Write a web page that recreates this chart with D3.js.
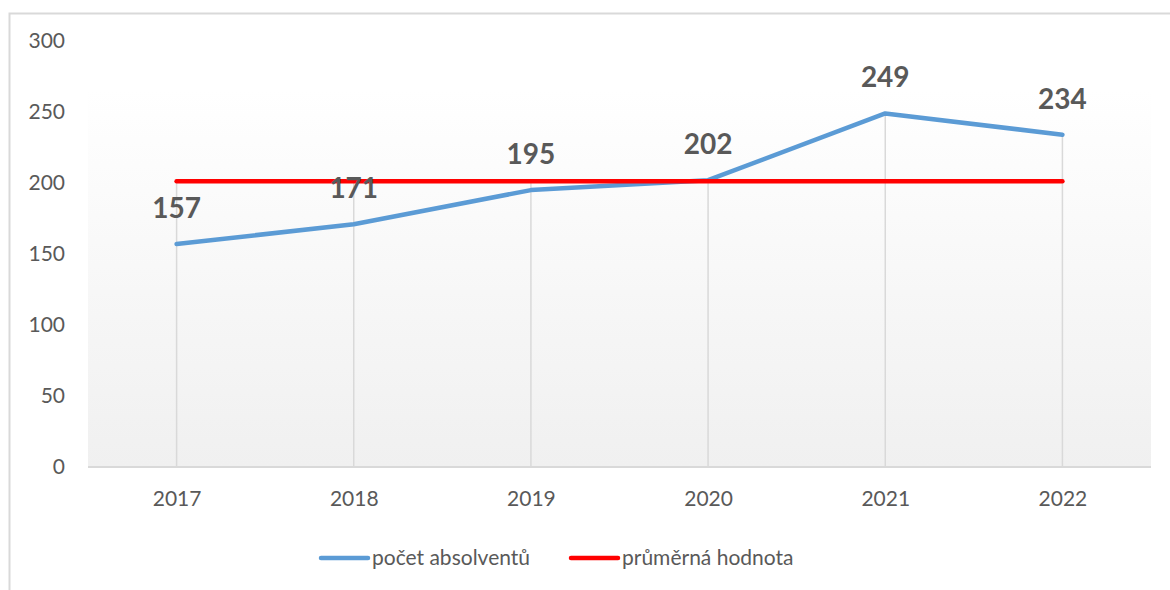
<!DOCTYPE html>
<html>
<head>
<meta charset="utf-8">
<script src="https://cdn.jsdelivr.net/npm/d3@7"></script>
<style>
  body { margin: 0; background: #fff; }
  text { font-family: Lato, "Open Sans", sans-serif; }
</style>
</head>
<body>
<div id="chart"></div>
<script>
const years = ['2017', '2018', '2019', '2020', '2021', '2022']
const graduates = [157, 171, 195, 202, 249, 234]
const average = [201.3, 201.3, 201.3, 201.3, 201.3, 201.3]
const yTicks = [0, 50, 100, 150, 200, 250, 300]
const seriesNames = ['počet absolventů', 'průměrná hodnota']

const W = 1170, H = 590
const plot = { left: 88, right: 1151, top: 41, bottom: 467 }

const svg = d3.select('#chart').append('svg')
    .attr('width', W)
    .attr('height', H)

// outer chart border (only left and top are inside the picture)
svg.append('rect')
    .attr('x', 9.5).attr('y', 13.5)
    .attr('width', W + 20).attr('height', H + 20)
    .attr('fill', '#fff')
    .attr('stroke', '#d9d9d9')
    .attr('stroke-width', 2)

const defs = svg.append('defs')
const grad = defs.append('linearGradient')
    .attr('id', 'bg').attr('x1', 0).attr('y1', 0).attr('x2', 0).attr('y2', 1)
grad.append('stop').attr('offset', '0%').attr('stop-color', '#ffffff')
grad.append('stop').attr('offset', '100%').attr('stop-color', '#f0f0f0')

const x = d3.scalePoint()
    .domain(years)
    .range([plot.left, plot.right])
    .padding(0.5)

const y = d3.scaleLinear()
    .domain([0, 300])
    .range([plot.bottom, plot.top])

// plot area background
svg.append('rect')
    .attr('x', plot.left).attr('y', 90)
    .attr('width', plot.right - plot.left)
    .attr('height', plot.bottom - 90)
    .attr('fill', 'url(#bg)')

// drop lines
svg.append('g').selectAll('line')
    .data(years)
    .join('line')
    .attr('x1', d => x(d)).attr('x2', d => x(d))
    .attr('y1', (d, i) => y(Math.max(graduates[i], average[i])))
    .attr('y2', plot.bottom)
    .attr('stroke', '#d9d9d9')
    .attr('stroke-width', 1.5)

// category axis
const xAxis = svg.append('g')
    .attr('transform', `translate(0, ${plot.bottom})`)
    .call(d3.axisBottom(x).tickSize(0).tickPadding(24))
xAxis.select('.domain')
    .attr('d', `M${plot.left},0H${plot.right}`)
    .attr('stroke', '#d9d9d9')
    .attr('stroke-width', 2)
xAxis.selectAll('text')
    .attr('font-size', 21)
    .attr('fill', '#595959')
    .attr('font-family', 'Lato, sans-serif')

// value axis (labels only)
const yAxis = svg.append('g')
    .attr('transform', `translate(${plot.left}, 0)`)
    .call(d3.axisLeft(y).tickValues(yTicks).tickSize(0).tickPadding(23))
yAxis.select('.domain').remove()
yAxis.selectAll('text')
    .attr('font-size', 21)
    .attr('fill', '#595959')
    .attr('font-family', 'Lato, sans-serif')

const line = d3.line()
    .x((d, i) => x(years[i]))
    .y(d => y(d))

svg.append('path')
    .datum(graduates)
    .attr('d', line)
    .attr('fill', 'none')
    .attr('stroke', '#5b9bd5')
    .attr('stroke-width', 4.5)
    .attr('stroke-linecap', 'round')
    .attr('stroke-linejoin', 'round')

svg.append('path')
    .datum(average)
    .attr('d', line)
    .attr('fill', 'none')
    .attr('stroke', '#ff0000')
    .attr('stroke-width', 4.5)
    .attr('stroke-linecap', 'round')

// data labels
svg.append('g').selectAll('text')
    .data(graduates)
    .join('text')
    .attr('x', (d, i) => x(years[i]))
    .attr('y', d => y(d) - 26)
    .attr('text-anchor', 'middle')
    .attr('font-size', 28)
    .attr('font-weight', 'bold')
    .attr('fill', '#595959')
    .text(d => d)

// legend
const legend = svg.append('g')
const legendItems = [
    { name: seriesNames[0], color: '#5b9bd5', x: 321 },
    { name: seriesNames[1], color: '#ff0000', x: 571 }
]
legendItems.forEach(item => {
    legend.append('line')
        .attr('x1', item.x).attr('x2', item.x + 47)
        .attr('y1', 558).attr('y2', 558)
        .attr('stroke', item.color)
        .attr('stroke-width', 4.5)
        .attr('stroke-linecap', 'round')
    legend.append('text')
        .attr('x', item.x + 51)
        .attr('y', 565)
        .attr('font-size', 21)
        .attr('fill', '#595959')
        .text(item.name)
})
</script>
</body>
</html>
